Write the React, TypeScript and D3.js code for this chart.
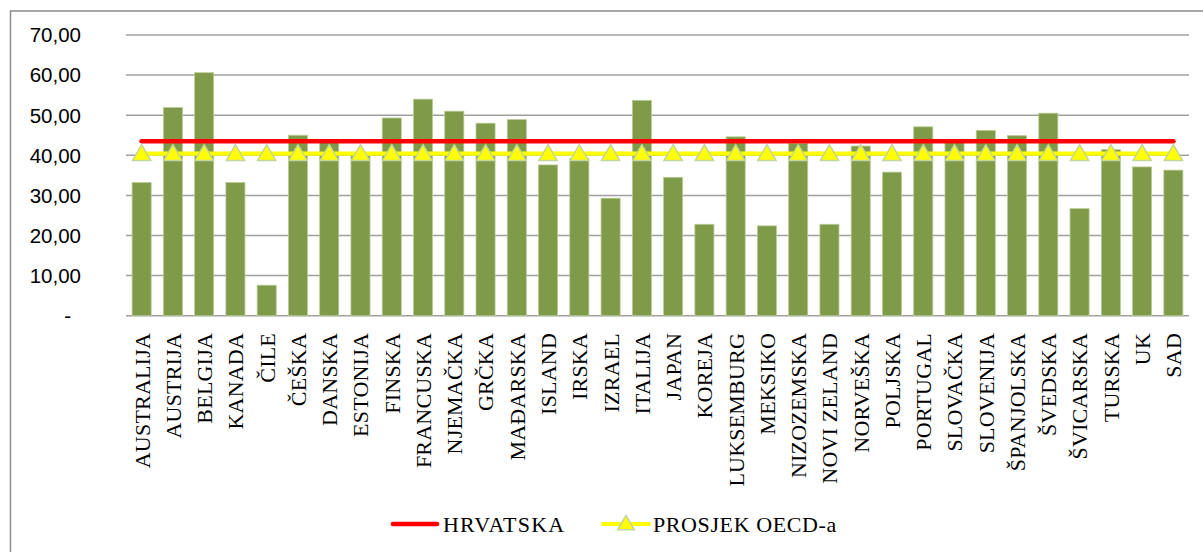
import React, { useEffect, useRef } from 'react';
import * as d3 from 'd3';

// Countries on the x axis
const countries = [
  'AUSTRALIJA', 'AUSTRIJA', 'BELGIJA', 'KANADA', 'ČILE', 'ČEŠKA', 'DANSKA', 'ESTONIJA',
  'FINSKA', 'FRANCUSKA', 'NJEMAČKA', 'GRČKA', 'MAĐARSKA', 'ISLAND', 'IRSKA', 'IZRAEL',
  'ITALIJA', 'JAPAN', 'KOREJA', 'LUKSEMBURG', 'MEKSIKO', 'NIZOZEMSKA', 'NOVI ZELAND',
  'NORVEŠKA', 'POLJSKA', 'PORTUGAL', 'SLOVAČKA', 'SLOVENIJA', 'ŠPANJOLSKA', 'ŠVEDSKA',
  'ŠVICARSKA', 'TURSKA', 'UK', 'SAD'
];

// Bar values per country
const values = [
  33.2, 51.9, 60.6, 33.2, 7.6, 45.0, 43.2, 40.3,
  49.3, 54.0, 51.0, 48.0, 48.9, 37.6, 39.2, 29.3,
  53.7, 34.5, 22.8, 44.6, 22.4, 43.0, 22.8,
  42.3, 35.8, 47.1, 43.4, 46.2, 44.9, 50.5,
  26.7, 41.4, 37.1, 36.3
];

// Reference lines
const hrvatska = countries.map(() => 43.5);
const oecd = countries.map(() => 40.4);

const yTicks = [0, 10, 20, 30, 40, 50, 60, 70];

const App = () => {
  const svgRef = useRef<SVGSVGElement>(null);

  useEffect(() => {
    if (!svgRef.current) return;
    document.body.style.margin = '0';

    const width = 1203;
    const height = 552;
    const svg = d3.select(svgRef.current);
    svg.selectAll('*').remove();
    svg.attr('width', width).attr('height', height);

    // Outer chart border (right/bottom edges are cropped off)
    svg.append('rect')
      .attr('x', 10.5)
      .attr('y', 11)
      .attr('width', 1300)
      .attr('height', 600)
      .attr('fill', 'none')
      .attr('stroke', '#8c8c8c')
      .attr('stroke-width', 1.5);

    const x = d3.scaleBand<string>()
      .domain(countries)
      .range([126, 1189])
      .paddingInner(0.39)
      .paddingOuter(0.195);

    const y = d3.scaleLinear().domain([0, 70]).range([315.7, 35]);
    const cx = (c: string) => (x(c) as number) + x.bandwidth() / 2;

    // Gridlines
    svg.append('g')
      .selectAll('line')
      .data(yTicks)
      .enter()
      .append('line')
      .attr('x1', 126)
      .attr('x2', 1189)
      .attr('y1', d => y(d))
      .attr('y2', d => y(d))
      .attr('stroke', '#a0a0a0')
      .attr('stroke-width', 1.5);

    // Y tick labels
    svg.append('g')
      .selectAll('text')
      .data(yTicks)
      .enter()
      .append('text')
      .attr('x', d => (d === 0 ? 71 : 81))
      .attr('y', d => y(d))
      .attr('dy', '0.36em')
      .attr('text-anchor', 'end')
      .attr('font-family', '"Liberation Sans", Arial, sans-serif')
      .attr('font-size', '20.5px')
      .attr('fill', '#000')
      .text(d => (d === 0 ? '-' : d3.format('.2f')(d).replace('.', ',')));

    // Bars
    svg.append('g')
      .selectAll('rect')
      .data(values)
      .enter()
      .append('rect')
      .attr('x', (d, i) => x(countries[i]) as number)
      .attr('y', d => y(d))
      .attr('width', x.bandwidth())
      .attr('height', d => y(0) - y(d))
      .attr('fill', '#7f9a48')
      .attr('stroke', '#b9cc92')
      .attr('stroke-width', 0.8);

    // HRVATSKA line
    const line = d3.line<number>()
      .x((d, i) => cx(countries[i]))
      .y(d => y(d));

    svg.append('path')
      .datum(hrvatska)
      .attr('d', line)
      .attr('fill', 'none')
      .attr('stroke', '#ff0000')
      .attr('stroke-width', 4.7)
      .attr('stroke-linecap', 'round');

    // OECD average line with triangle markers
    svg.append('path')
      .datum(oecd)
      .attr('d', line)
      .attr('fill', 'none')
      .attr('stroke', '#ffff00')
      .attr('stroke-width', 4.2);

    const tri = d3.symbol().type(d3.symbolTriangle).size(145)();
    svg.append('g')
      .selectAll('path')
      .data(oecd)
      .enter()
      .append('path')
      .attr('d', tri)
      .attr('transform', (d, i) => `translate(${cx(countries[i])},${y(d) + 1.5})`)
      .attr('fill', '#ffff00')
      .attr('stroke', '#c3d69b')
      .attr('stroke-width', 1.5);

    // X axis labels (rotated)
    svg.append('g')
      .selectAll('text')
      .data(countries)
      .enter()
      .append('text')
      .attr('transform', d => `translate(${cx(d)},333) rotate(-90)`)
      .attr('dy', '0.36em')
      .attr('text-anchor', 'end')
      .attr('font-family', '"Liberation Serif", "Times New Roman", serif')
      .attr('font-size', '22px')
      .attr('letter-spacing', '0.2px')
      .attr('fill', '#000')
      .text(d => d);

    // Legend
    const legend = svg.append('g');
    legend.append('line')
      .attr('x1', 393).attr('x2', 437)
      .attr('y1', 524).attr('y2', 524)
      .attr('stroke', '#ff0000')
      .attr('stroke-width', 4.7)
      .attr('stroke-linecap', 'round');
    legend.append('text')
      .attr('x', 443).attr('y', 532)
      .attr('font-family', '"Liberation Serif", "Times New Roman", serif')
      .attr('font-size', '22px')
      .attr('letter-spacing', '1.2px')
      .text('HRVATSKA');

    legend.append('line')
      .attr('x1', 603).attr('x2', 649)
      .attr('y1', 524).attr('y2', 524)
      .attr('stroke', '#ffff00')
      .attr('stroke-width', 4.2)
      .attr('stroke-linecap', 'round');
    legend.append('path')
      .attr('d', d3.symbol().type(d3.symbolTriangle).size(120)())
      .attr('transform', 'translate(626,525)')
      .attr('fill', '#ffff00')
      .attr('stroke', '#c3d69b')
      .attr('stroke-width', 1.5);
    legend.append('text')
      .attr('x', 653).attr('y', 532)
      .attr('font-family', '"Liberation Serif", "Times New Roman", serif')
      .attr('font-size', '22px')
      .attr('letter-spacing', '0.6px')
      .text('PROSJEK OECD-a');
  }, []);

  return (
    <div style={{ width: '1203px', height: '552px', background: '#fff' }}>
      <svg ref={svgRef} width="1203" height="552" style={{ display: 'block' }}></svg>
    </div>
  );
};

export default App;
